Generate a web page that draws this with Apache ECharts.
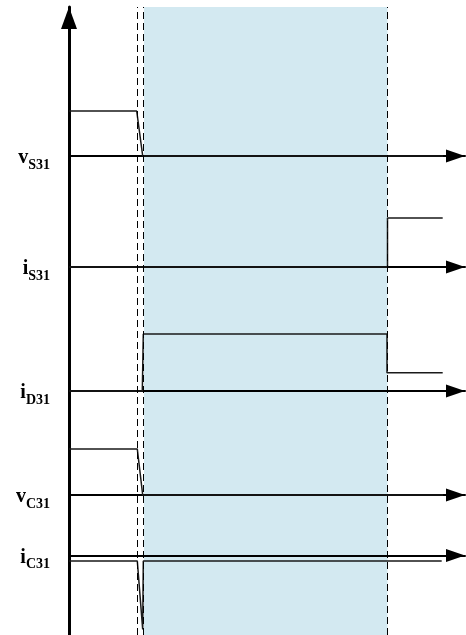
<!DOCTYPE html>
<html>
<head>
<meta charset="utf-8">
<script src="https://cdn.jsdelivr.net/npm/echarts@6/dist/echarts.min.js"></script>
<style>
  html, body { margin: 0; padding: 0; background: #ffffff; }
  #chart { width: 466px; height: 635px; }
</style>
</head>
<body>
<div id="chart"></div>
<script>
// ---- Data -------------------------------------------------------------
// Shared time axis
const timeMax = 396;
const switchTimes = [68.5, 73.8, 318.5];   // dashed switching instants
const shadedInterval = [75, 318.5];        // highlighted conduction interval

// Trace labels: main symbol + subscript
const traceMain = ['v', 'i', 'i', 'v', 'i'];
const traceSub = ['S31', 'S31', 'D31', 'C31', 'C31'];

// Waveforms (time, level)
const vS31Time = [0, 67.7, 73.7, 374];
const vS31Value = [45, 45, 0, 0];

const iS31Time = [0, 318.5, 318.5, 373.7];
const iS31Value = [0, 0, 49, 49];

const iD31Time = [0, 73.3, 74.3, 318, 318, 373.7];
const iD31Value = [0, 0, 57, 57, 18.3, 18.3];

const vC31Time = [0, 68.3, 73.7, 374];
const vC31Value = [46, 46, 0, 0];

const iC31Time = [0, 68.3, 73.7, 74.3, 372.7];
const iC31Value = [-5.5, -5.5, -74, -5.5, -5.5];

const traceTimes = [vS31Time, iS31Time, iD31Time, vC31Time, iC31Time];
const traceValues = [vS31Value, iS31Value, iD31Value, vC31Value, iC31Value];

// ---- Layout -----------------------------------------------------------
const W = 466, H = 635;
const plotLeft = 69, plotRight = 1, plotTop = 7;
const traceBaselines = [156, 267, 391, 495, 555.5];  // pixel row of each zero line
const traceAbove = 60;

const fontFamily = "'Liberation Serif', 'Times New Roman', serif";

const grids = [{ left: plotLeft, right: plotRight, top: plotTop, bottom: 0 }];
const xAxes = [{
  gridIndex: 0, type: 'value', min: 0, max: timeMax, show: false
}];
const yAxes = [{
  gridIndex: 0, type: 'value', min: 0, max: 1,
  axisLine: {
    show: true,
    symbol: ['none', 'triangle'],
    symbolSize: [16, 22],
    symbolOffset: [0, -11],
    lineStyle: { color: '#000000', width: 3 }
  },
  axisTick: { show: false },
  axisLabel: { show: false },
  splitLine: { show: false }
}];

const series = [{
  type: 'line',
  xAxisIndex: 0,
  yAxisIndex: 0,
  data: [],
  z: 1,
  silent: true,
  markArea: {
    silent: true,
    itemStyle: { color: '#d3e9f1' },
    data: [[{ xAxis: shadedInterval[0] }, { xAxis: shadedInterval[1] }]]
  },
  markLine: {
    silent: true,
    symbol: 'none',
    label: { show: false },
    lineStyle: { color: '#000000', width: 1, type: [7, 4] },
    data: switchTimes.map(t => ({ xAxis: t }))
  }
}];

traceBaselines.forEach((base, i) => {
  const below = i === traceBaselines.length - 1 ? H - base : 10;
  const g = i + 1;
  grids.push({ left: plotLeft, right: plotRight, top: base - traceAbove, height: traceAbove + below });
  xAxes.push({
    gridIndex: g, type: 'value', min: 0, max: timeMax, z: 3,
    axisLine: {
      show: true, onZero: true,
      symbol: ['none', 'triangle'],
      symbolSize: [13, 19],
      symbolOffset: [0, -9.5],
      lineStyle: { color: '#000000', width: 2 }
    },
    axisTick: { show: false },
    axisLabel: { show: false },
    splitLine: { show: false },
    name: '{m|' + traceMain[i] + '}{s|' + traceSub[i] + '}',
    nameLocation: 'start',
    nameGap: 19,
    nameTextStyle: {
      padding: [4, 0, 0, 0],
      rich: {
        m: { fontFamily, fontWeight: 'bold', fontSize: 20, lineHeight: 28, color: '#000' },
        s: { fontFamily, fontWeight: 'bold', fontSize: 14, lineHeight: 14, verticalAlign: 'bottom', color: '#000' }
      }
    }
  });
  yAxes.push({ gridIndex: g, type: 'value', min: -below, max: traceAbove, show: false });
  series.push({
    type: 'line',
    xAxisIndex: g,
    yAxisIndex: g,
    data: traceTimes[i].map((t, k) => [t, traceValues[i][k]]),
    showSymbol: false,
    silent: true,
    z: 4,
    lineStyle: { color: '#1a1a1a', width: 1.5 }
  });
});

const chart = echarts.init(document.getElementById('chart'), null, { renderer: 'canvas', width: W, height: H });
chart.setOption({
  animation: false,
  backgroundColor: '#ffffff',
  grid: grids,
  xAxis: xAxes,
  yAxis: yAxes,
  series
});
</script>
</body>
</html>
